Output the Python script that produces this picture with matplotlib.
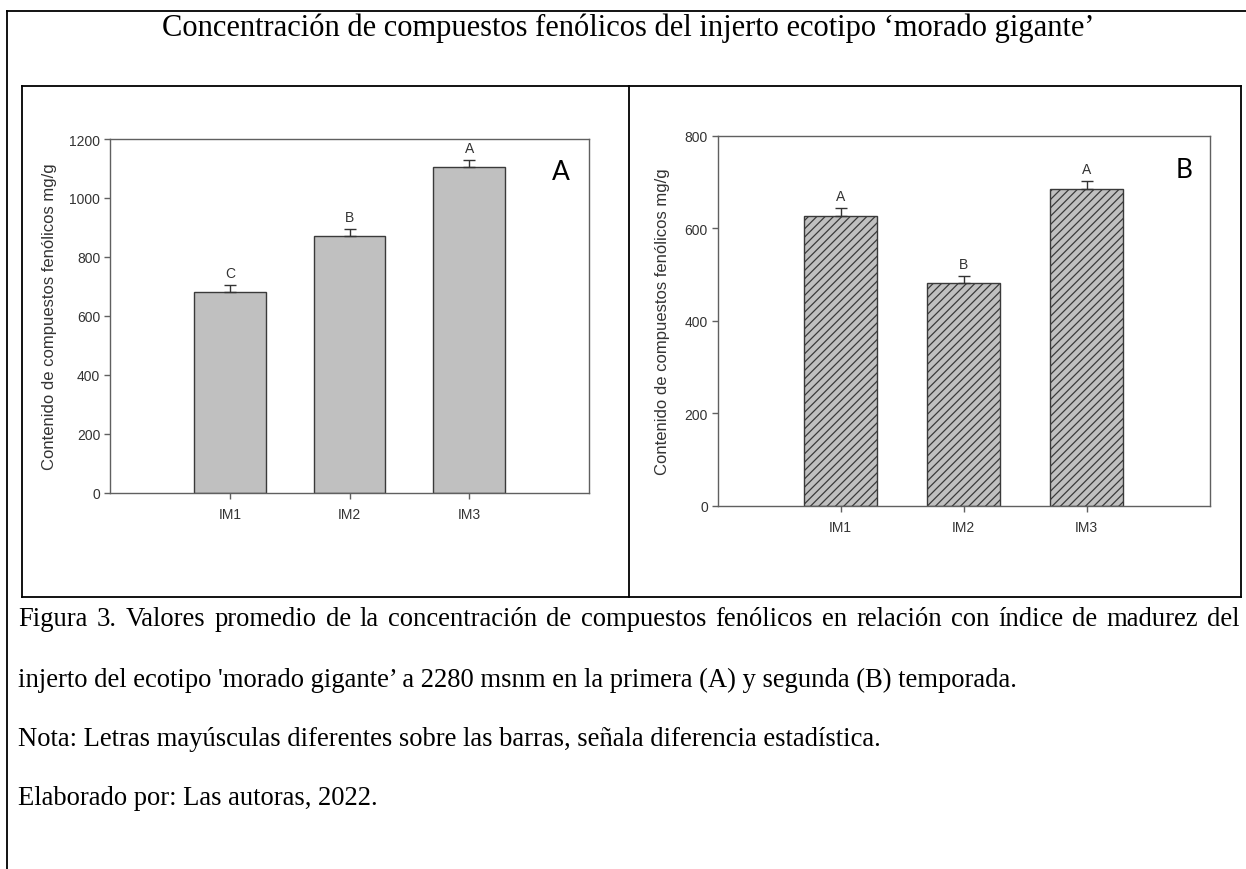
import matplotlib
matplotlib.use('Agg')
import matplotlib.pyplot as plt
from matplotlib.lines import Line2D

# ---------------- data ----------------
categories = ['IM1', 'IM2', 'IM3']
season_a = [682, 871, 1104]
season_a_err = [24, 24, 25]
season_a_letters = ['C', 'B', 'A']
season_b = [627, 481, 685]
season_b_err = [17, 16, 18]
season_b_letters = ['A', 'B', 'A']
yticks_a = [0, 200, 400, 600, 800, 1000, 1200]
yticks_b = [0, 200, 400, 600, 800]

title = "Concentración de compuestos fenólicos del injerto ecotipo \u2018morado gigante\u2019"
ylabel = "Contenido de compuestos fenólicos mg/g"
caption = [
    "Figura 3. Valores promedio de la concentración de compuestos fenólicos en relación con índice de madurez del",
    "injerto del ecotipo 'morado gigante\u2019 a 2280 msnm en la primera (A) y segunda (B) temporada.",
    "Nota: Letras mayúsculas diferentes sobre las barras, señala diferencia estadística.",
    "Elaborado por: Las autoras, 2022.",
]

# ---------------- figure ----------------
W, H = 1246, 870
fig = plt.figure(figsize=(W / 100, H / 100), dpi=100)
fig.patch.set_facecolor('white')


def fx(px):
    return px / W


def fy(py):
    return 1 - py / H


def fline(x0, y0, x1, y1, lw=1.3):
    fig.add_artist(Line2D([fx(x0), fx(x1)], [fy(y0), fy(y1)],
                          transform=fig.transFigure, color='black', lw=lw,
                          solid_capstyle='projecting'))


# outer frame (top + left visible)
fline(7, 12, 1250, 12)
fline(7, 12, 7, 875)
# inner frame
fline(22, 87, 1241, 87)
fline(22, 598, 1241, 598)
fline(22, 87, 22, 598)
fline(1241, 87, 1241, 598)
fline(629, 87, 629, 598)

serif = 'Liberation Serif'
sans = 'Liberation Sans'
txtcol = '#333333'
cap_size = 19.2

fig.text(fx(628), fy(28), title, ha='center', va='center', family=serif,
         size=22, color='black')

cap_y = [619, 680, 740, 799]
for s, y in zip(caption[1:], cap_y[1:]):
    fig.text(fx(18), fy(y), s, ha='left', va='center', family=serif,
             size=cap_size, color='black')

# first caption line, justified across the frame width (word by word)
fig.canvas.draw()
r = fig.canvas.get_renderer()
target = 1240 - 18
words = caption[0].split(' ')
widths = []
for w in words:
    tt = fig.text(0, 0, w, family=serif, size=cap_size)
    widths.append(tt.get_window_extent(r).width)
    tt.remove()
gap = (target - sum(widths)) / (len(words) - 1)
xpos = 18
for w, wd in zip(words, widths):
    fig.text(fx(xpos), fy(cap_y[0]), w, ha='left', va='center',
             family=serif, size=cap_size, color='black')
    xpos += wd + gap

plt.rcParams['hatch.linewidth'] = 0.9
plt.rcParams['hatch.color'] = '#3a3a3a'


def make_panel(rect, vals, errs, letters, yticks, hatch, label_x, panel_letter, letter_pos):
    ax = fig.add_axes(rect)
    x = list(range(1, len(categories) + 1))
    ax.bar(x, vals, width=0.6, color='#c0c0c0', edgecolor='#3a3a3a',
           linewidth=1.0, hatch=hatch, zorder=2)
    ax.errorbar(x, vals, yerr=[[0] * len(errs), errs], fmt='none',
                ecolor='#333333', elinewidth=1.0, capsize=4, capthick=1.0,
                zorder=3)
    for xi, v, e, l in zip(x, vals, errs, letters):
        ax.annotate(l, (xi, v + e), xytext=(0, 12), textcoords='offset pixels',
                    ha='center', va='center', family=sans, size=10,
                    color=txtcol)
    ax.set_xlim(0, 4)
    ax.set_ylim(yticks[0], yticks[-1])
    ax.set_yticks(yticks)
    ax.set_xticks(x)
    ax.set_xticklabels(categories)
    for sp in ax.spines.values():
        sp.set_color('#606060')
        sp.set_linewidth(1.0)
    ax.tick_params(direction='out', length=4, width=1, color='#606060',
                   labelsize=10, labelcolor=txtcol, pad=3)
    for t in ax.get_xticklabels() + ax.get_yticklabels():
        t.set_family(sans)
    ax.tick_params(axis='x', pad=6)
    ax.set_ylabel(ylabel, family=sans, size=12, color=txtcol)
    ax.yaxis.set_label_coords(label_x, 0.5)
    fig.text(fx(letter_pos[0]), fy(letter_pos[1]), panel_letter, ha='center',
             va='center', family='Lato', size=19, color='black')
    return ax


make_panel([fx(110), fy(494), fx(589) - fx(110), fy(140) - fy(494)],
           season_a, season_a_err, season_a_letters, yticks_a, None,
           -0.11, 'A', (561, 173))
make_panel([fx(717.5), fy(507), fx(1209.5) - fx(717.5), fy(136.7) - fy(507)],
           season_b, season_b_err, season_b_letters, yticks_b, '////',
           -0.0965, 'B', (1184, 170))

fig.savefig('out.png', dpi=100)
